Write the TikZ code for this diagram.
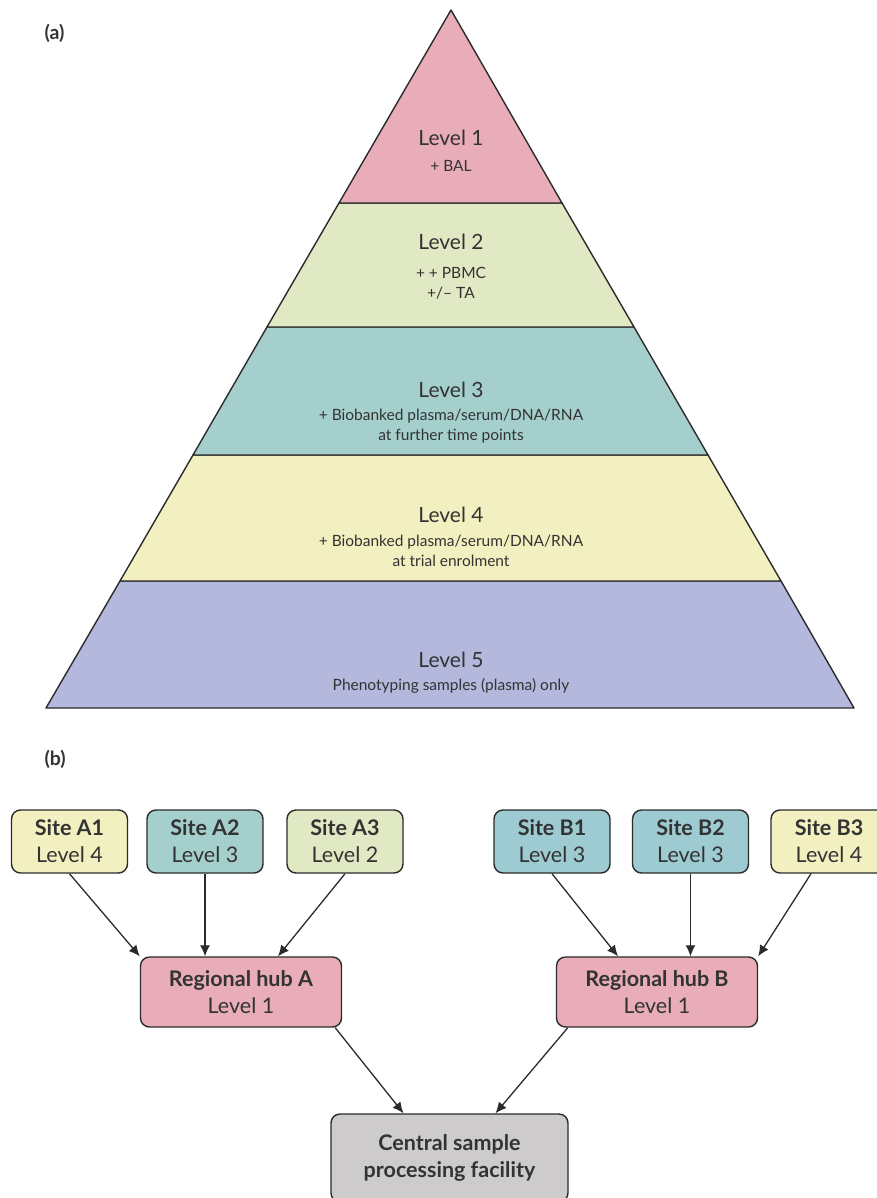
\documentclass[tikz,border=0pt]{standalone}
\usepackage{fontspec}
\setmainfont{Lato}
\usetikzlibrary{arrows.meta}
\definecolor{lvpink}{HTML}{E8ADB8}
\definecolor{lvgreen}{HTML}{E0E9C3}
\definecolor{lvteal}{HTML}{A4CFCD}
\definecolor{lvtealb}{HTML}{9DCBD1}
\definecolor{lvyellow}{HTML}{F2F0C0}
\definecolor{lvlilac}{HTML}{B4B8DC}
\definecolor{lvgrey}{HTML}{CDCBCB}
\definecolor{ink}{HTML}{2B2B2B}
\definecolor{txt}{HTML}{333333}
\begin{document}
\begin{tikzpicture}[x=1pt,y=-1pt,
    layer/.style={draw=ink,line width=1.4pt,line join=round},
    lvname/.style={anchor=base,text=txt,font=\fontsize{21}{24}\selectfont},
    lvnote/.style={anchor=base,text=txt,align=center,font=\fontsize{15.5}{19.5}\selectfont},
    panel/.style={anchor=base west,text=txt,font=\fontsize{19.5}{22}\selectfont\bfseries},
    sitebox/.style={draw=ink,line width=1.4pt,rounded corners=9pt,align=center,
      text=txt,minimum width=116pt,minimum height=63pt,inner sep=0pt,
      font=\fontsize{21.5}{27}\selectfont},
    hubbox/.style={sitebox,fill=lvpink,minimum width=201pt,minimum height=70pt},
    flow/.style={draw=ink,line width=1.3pt,-{Latex[length=11pt,width=10pt]}}]
  \useasboundingbox (0,0) rectangle (877,1198);
  % (a) pyramid
  \node[panel] (pa) at (41,40) {(a)};
  \draw[layer,fill=lvlilac] (120,581) -- (781,581) -- (854,708) -- (46,708) -- cycle;
  \draw[layer,fill=lvyellow] (193,455) -- (708,455) -- (781,581) -- (120,581) -- cycle;
  \draw[layer,fill=lvteal] (267,327) -- (634,327) -- (708,455) -- (193,455) -- cycle;
  \draw[layer,fill=lvgreen] (339,203) -- (562,203) -- (634,327) -- (267,327) -- cycle;
  \draw[layer,fill=lvpink] (451,10) -- (562,203) -- (339,203) -- cycle;
  \node[lvname] (lv1) at (451,146) {Level 1};
  \node[lvnote] (lv1n) at (451,172) {+ BAL};
  \node[lvname] (lv2) at (451,250) {Level 2};
  \node[lvnote,anchor=north] (lv2n) at (451,264) {+ + PBMC\\+/– TA};
  \node[lvname] (lv3) at (451,397) {Level 3};
  \node[lvnote,anchor=north] (lv3n) at (451,406) {+ Biobanked plasma/serum/DNA/RNA\\at further time points};
  \node[lvname] (lv4) at (451,522) {Level 4};
  \node[lvnote,anchor=north] (lv4n) at (451,532) {+ Biobanked plasma/serum/DNA/RNA\\at trial enrolment};
  \node[lvname] (lv5) at (451,667) {Level 5};
  \node[lvnote] (lv5n) at (451,690) {Phenotyping samples (plasma) only};
  % (b) sample flow
  \node[panel] (pb) at (41,765) {(b)};
  \node[sitebox,fill=lvyellow] (siteA1) at (69.5,841.5) {\textbf{Site A1}\\Level 4};
  \node[sitebox,fill=lvteal] (siteA2) at (205,841.5) {\textbf{Site A2}\\Level 3};
  \node[sitebox,fill=lvgreen] (siteA3) at (345,841.5) {\textbf{Site A3}\\Level 2};
  \node[sitebox,fill=lvtealb] (siteB1) at (552,841.5) {\textbf{Site B1}\\Level 3};
  \node[sitebox,fill=lvtealb] (siteB2) at (690.5,841.5) {\textbf{Site B2}\\Level 3};
  \node[sitebox,fill=lvyellow] (siteB3) at (829,841.5) {\textbf{Site B3}\\Level 4};
  \node[hubbox] (hubA) at (241,992) {\textbf{Regional hub A}\\Level 1};
  \node[hubbox] (hubB) at (657,992) {\textbf{Regional hub B}\\Level 1};
  \node[sitebox,fill=lvgrey,minimum width=237pt,minimum height=88pt] (central) at (449.5,1158)
    {\textbf{Central sample}\\\textbf{processing facility}};
  \begin{scope}[flow]
    \draw (siteA1.south) to (hubA.north west);
    \draw (siteA2.south) to (siteA2.south |- hubA.north);
    \draw (siteA3.south) to ([xshift=37pt]hubA.north);
    \draw (siteB1.south) to ([xshift=-39pt]hubB.north);
    \draw (siteB2.south) to (siteB2.south |- hubB.north);
    \draw ([xshift=-18pt]siteB3.south) to (hubB.north east);
    \draw ([xshift=-7pt]hubA.south east) to ([xshift=-46pt]central.north);
    \draw ([xshift=12pt]hubB.south west) to ([xshift=46pt]central.north);
  \end{scope}
\end{tikzpicture}
\end{document}
